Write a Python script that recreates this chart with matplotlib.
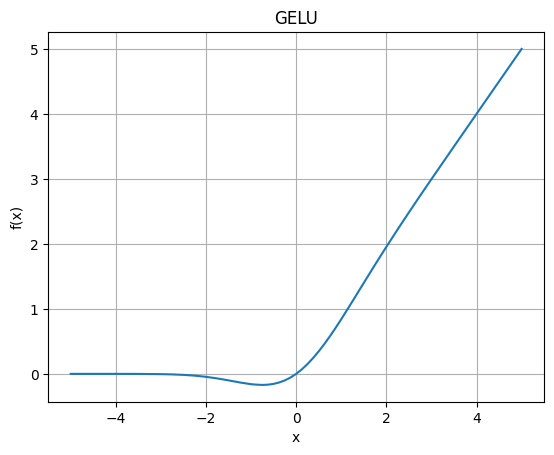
import matplotlib.pyplot as plt

# points
x_vals = [-5.0, -4.5, -4.0, -3.5, -3.0, -2.75, -2.5, -2.25, -2.0, -1.75, -1.5,
          -1.25, -1.0, -0.875, -0.75, -0.625, -0.5, -0.375, -0.25, -0.125, 0.0,
          0.125, 0.25, 0.375, 0.5, 0.625, 0.75, 0.875, 1.0, 1.25, 1.5, 1.75,
          2.0, 2.25, 2.5, 2.75, 3.0, 3.5, 4.0, 4.5, 5.0]
y_vals = [0.0, 0.0, -0.0001, -0.0008, -0.004, -0.0082, -0.0155, -0.0275, -0.0455,
          -0.070, -0.100, -0.132, -0.159, -0.166, -0.170, -0.166, -0.154, -0.132,
          -0.100, -0.056, 0.0, 0.069, 0.150, 0.243, 0.346, 0.459, 0.580, 0.708,
          0.841, 1.118, 1.400, 1.680, 1.954, 2.222, 2.484, 2.742, 2.996, 3.499,
          4.0, 4.5, 5.0]

fig, ax = plt.subplots(figsize=(6.4, 4.8))
ax.plot(x_vals, y_vals)
ax.set_title("GELU")
ax.set_xlabel("x")
ax.set_ylabel("f(x)")
ax.grid(True)

plt.savefig("out.png", bbox_inches="tight")
